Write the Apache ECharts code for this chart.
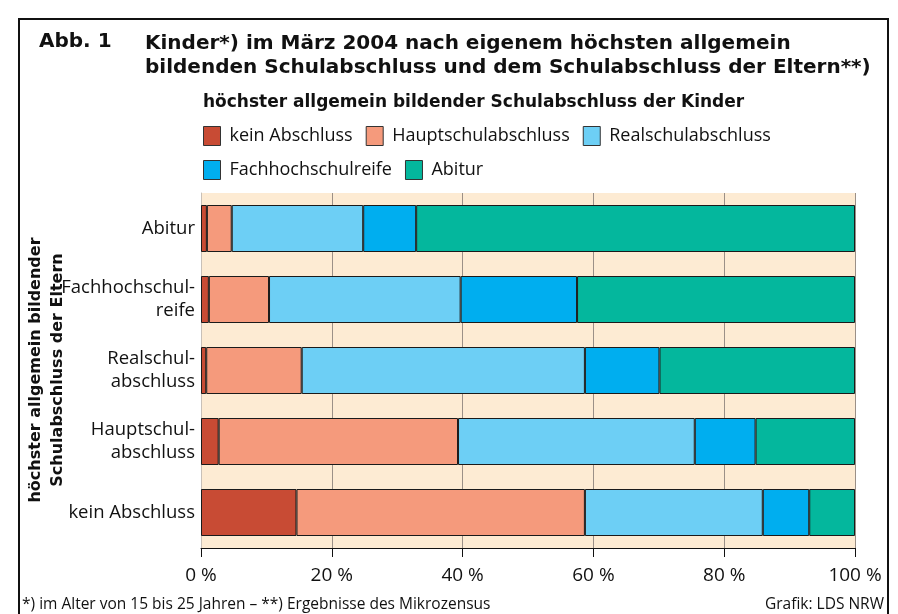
<!DOCTYPE html>
<html lang="de">
<head>
    <meta charset="UTF-8">
    <title>Abb. 1</title>
    <script src="https://cdn.jsdelivr.net/npm/echarts@6/dist/echarts.min.js"></script>
    <style>
        html, body { margin: 0; padding: 0; background: #fff; }
        #main { width: 898px; height: 614px; }
    </style>
</head>
<body>
<div id="main"></div>
<script type="text/javascript">
    // Schulabschluss der Eltern (von oben nach unten)
    var eltern = ['Abitur', 'Fachhochschul-\nreife', 'Realschul-\nabschluss', 'Hauptschul-\nabschluss', 'kein Abschluss'];
    // Anteile der Kinder in %
    var keinAbschluss = [0.9, 1.2, 0.8, 2.7, 14.6];
    var hauptschule   = [3.8, 9.2, 14.6, 36.6, 44.1];
    var realschule    = [20.1, 29.3, 43.3, 36.2, 27.2];
    var fachhochschul = [8.1, 17.8, 11.4, 9.3, 7.1];
    var abitur        = [67.1, 42.5, 29.9, 15.2, 7.0];
    var xTicks = [0, 20, 40, 60, 80, 100];

    var font = 'Open Sans';
    var bold = 'DejaVu Sans';
    var myChart = echarts.init(document.getElementById('main'));

    function bar(name, data, color) {
        return {
            name: name,
            type: 'bar',
            stack: 'kinder',
            barWidth: 47,
            data: data,
            itemStyle: { color: color, borderColor: '#1a1a1a', borderWidth: 1 }
        };
    }

    var legendText = { fontSize: 18, color: '#111', fontFamily: font, padding: [0, 0, 0, 4] };

    var option = {
        animation: false,
        backgroundColor: '#fff',
        textStyle: { fontFamily: font },
        graphic: [
            { type: 'rect', shape: { x: 19, y: 19, width: 869, height: 620 },
              style: { fill: 'none', stroke: '#111', lineWidth: 2 } },
            { type: 'text', left: 39, top: 32,
              style: { text: 'Abb. 1', font: 'bold 20px ' + bold, fill: '#111' } },
            { type: 'text', left: 145, top: 32,
              style: { text: 'Kinder*) im März 2004 nach eigenem höchsten allgemein\nbildenden Schulabschluss und dem Schulabschluss der Eltern**)',
                       font: 'bold 20px ' + bold, fill: '#111', lineHeight: 24 } },
            { type: 'text', left: 203, top: 94,
              style: { text: 'höchster allgemein bildender Schulabschluss der Kinder', font: 'bold 17px ' + bold, fill: '#111' } },
            // Achsentitel der Eltern, gedreht
            { type: 'text', x: 47, y: 370, rotation: Math.PI / 2,
              style: { text: 'höchster allgemein bildender\nSchulabschluss der Eltern', font: 'bold 16px ' + bold,
                       fill: '#111', align: 'center', verticalAlign: 'middle', lineHeight: 22 } },
            { type: 'text', left: 22, top: 597,
              style: { text: '*) im Alter von 15 bis 25 Jahren – **) Ergebnisse des Mikrozensus', font: '15.5px ' + font, fill: '#111' } },
            { type: 'text', right: 14, top: 597,
              style: { text: 'Grafik: LDS NRW', font: '15.5px ' + font, fill: '#111' } }
        ],
        legend: [{
            left: 203, top: 126, padding: 0, icon: 'rect', itemWidth: 17, itemHeight: 19, itemGap: 13,
            itemStyle: { borderColor: '#333', borderWidth: 1 },
            textStyle: legendText,
            data: ['kein Abschluss', 'Hauptschulabschluss', 'Realschulabschluss']
        }, {
            left: 203, top: 160, padding: 0, icon: 'rect', itemWidth: 17, itemHeight: 19, itemGap: 13,
            itemStyle: { borderColor: '#333', borderWidth: 1 },
            textStyle: legendText,
            data: ['Fachhochschulreife', 'Abitur']
        }],
        grid: { left: 201, right: 43, top: 193, bottom: 66, show: true, backgroundColor: '#fdebd3', borderWidth: 0 },
        xAxis: {
            type: 'value', min: 0, max: 100, interval: 20,
            axisLine: { show: true, lineStyle: { color: '#111', width: 1 } },
            axisTick: { show: true, length: 9, lineStyle: { color: '#111' } },
            splitLine: { show: true, lineStyle: { color: '#9b9087', width: 1 } },
            axisLabel: { margin: 18, fontSize: 19, color: '#111', formatter: function (v) { return xTicks.indexOf(v) >= 0 ? v + ' %' : ''; } }
        },
        yAxis: {
            type: 'category', inverse: true, data: eltern,
            axisLine: { show: true, lineStyle: { color: '#c8c0b8' } },
            axisTick: { show: false },
            axisLabel: { margin: 6, fontSize: 18.5, color: '#111', lineHeight: 23, align: 'right' }
        },
        series: [
            bar('kein Abschluss', keinAbschluss, '#c84b34'),
            bar('Hauptschulabschluss', hauptschule, '#f59a7c'),
            bar('Realschulabschluss', realschule, '#6dcff5'),
            bar('Fachhochschulreife', fachhochschul, '#00aeef'),
            bar('Abitur', abitur, '#04b79d')
        ]
    };

    myChart.setOption(option);
</script>
</body>
</html>
